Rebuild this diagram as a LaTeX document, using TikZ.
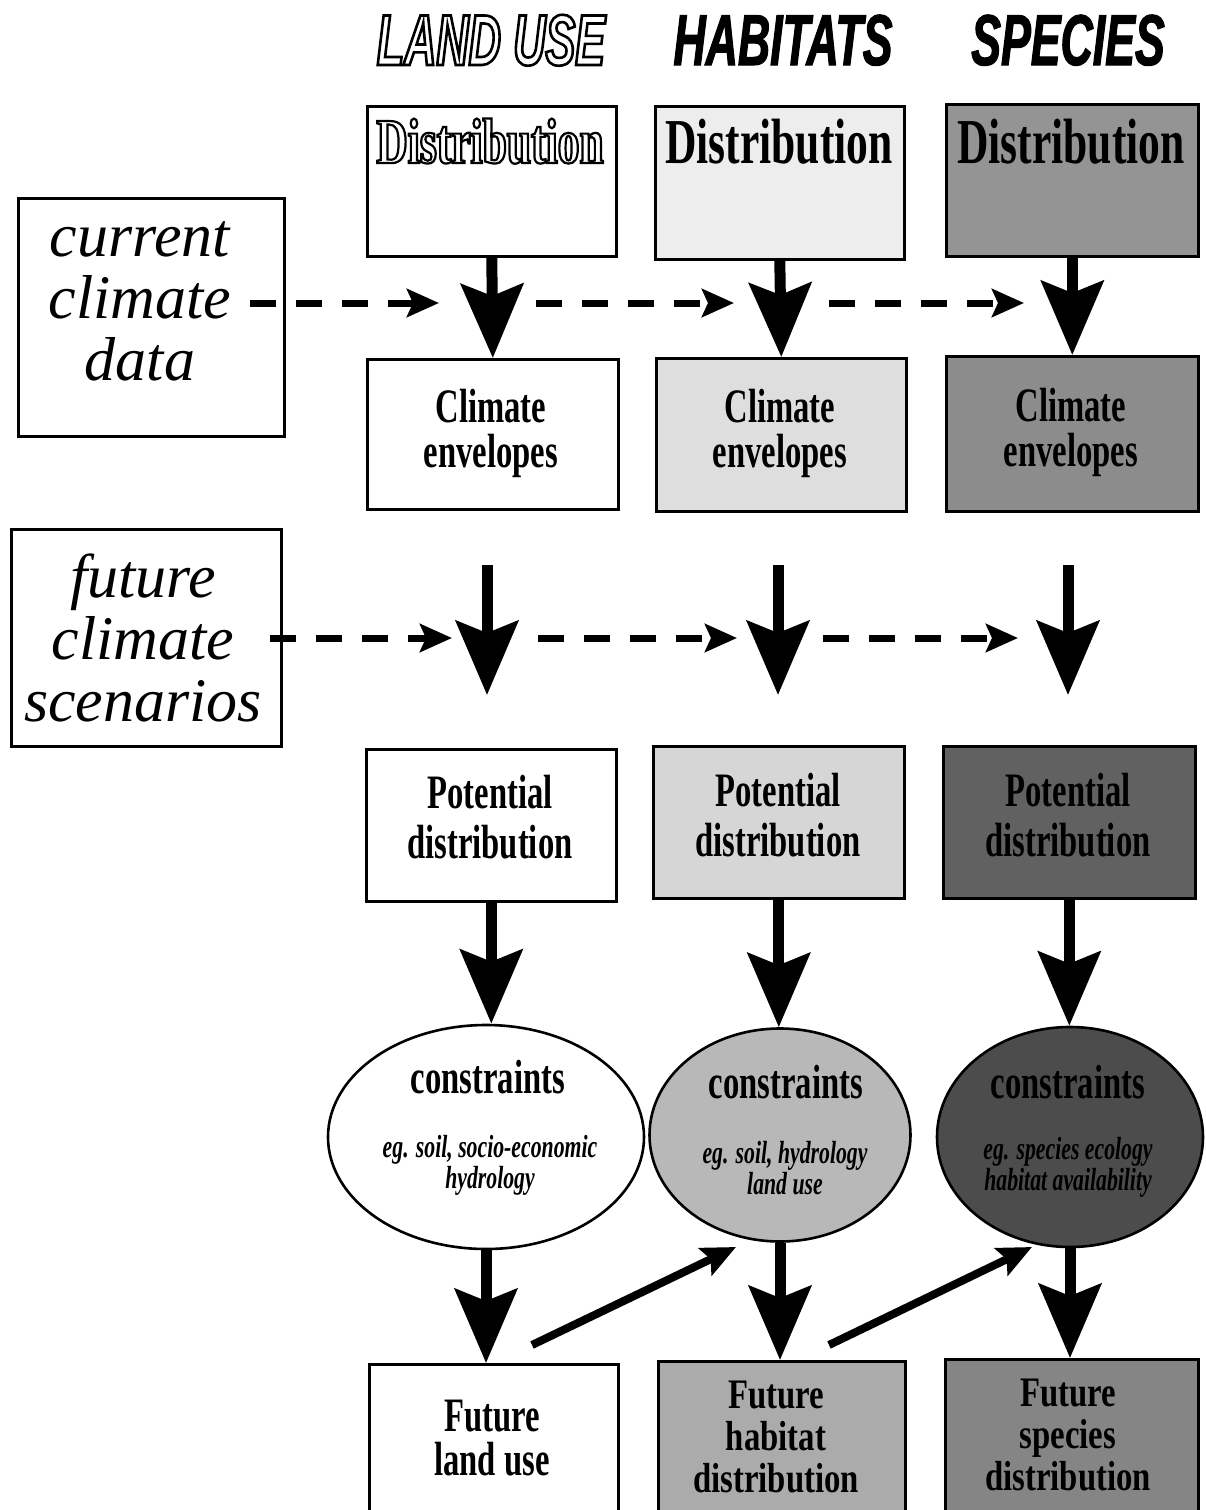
\documentclass[tikz,border=0pt]{standalone}
\usepackage{fontspec}
\usetikzlibrary{arrows.meta,shapes.geometric}
\setmainfont{Liberation Serif}
\newfontfamily\boxfont[FakeStretch=0.68]{Liberation Serif}
\newfontfamily\boxwide[FakeStretch=0.78]{Liberation Serif}
\newfontfamily\headfont[FakeStretch=0.62]{Liberation Sans}
\newfontfamily\heavyhead[FakeStretch=0.62,FakeBold=1.5]{Liberation Sans}
\newcommand{\outltext}[2]{\special{pdf:literal direct #1 w 1 Tr}#2\special{pdf:literal direct 0 Tr 1 w}}
\begin{document}
\begin{tikzpicture}[x=0.5pt,y=-0.5pt,
  boxst/.style={draw,line width=1.3pt,inner sep=0pt,anchor=north west},
  ellst/.style={draw,line width=1.3pt,ellipse,inner sep=0pt},
  headtxt/.style={anchor=base,font=\headfont\bfseries\itshape\fontsize{36}{36}\selectfont},
  heavytxt/.style={anchor=base,font=\heavyhead\bfseries\itshape\fontsize{36}{36}\selectfont},
  disttxt/.style={anchor=base,font=\boxfont\bfseries\fontsize{32}{32}\selectfont},
  midtxt/.style={align=center,font=\boxfont\bfseries\fontsize{24}{22.5}\selectfont},
  threetxt/.style={align=center,font=\boxwide\bfseries\fontsize{21}{21}\selectfont},
  contxt/.style={anchor=base,font=\boxfont\bfseries\fontsize{24}{24}\selectfont},
  subtxt/.style={align=center,font=\boxfont\bfseries\itshape\fontsize{16}{13}\selectfont},
  sidetxt/.style={align=center,font=\itshape\fontsize{31}{31}\selectfont},
  bigarr/.style={line width=5.5pt,-{Stealth[length=37pt,width=31pt,inset=6pt]}},
  dasharr/.style={line width=3.5pt,dash pattern=on 13pt off 10pt,-{Stealth[length=16pt,width=14pt,inset=3pt]}},
  diagarr/.style={line width=4pt,-{Stealth[length=17pt,width=15pt,inset=3pt]}}]
\useasboundingbox (0,0) rectangle (1205,1510);
\fill[white] (0,0) rectangle (1205,1510);

% column headers
\node[headtxt] (hland) at (491,65) {\outltext{1.3}{LAND USE}};
\node[heavytxt] (hhab) at (783,65) {HABITATS};
\node[heavytxt] (hspe) at (1068,65) {SPECIES};

% side boxes
\node[boxst,minimum width=133pt,minimum height=119pt] (cur) at (17,197) {};
\node[sidetxt] (curt) at (140,301) {current\\climate\\data};
\node[boxst,minimum width=135pt,minimum height=108.5pt] (fut) at (10,528) {};
\node[sidetxt] (futt) at (143,638) {future\\climate\\scenarios};

% distribution boxes
\node[boxst,minimum width=124.5pt,minimum height=75pt] (d1) at (366,105) {};
\node[boxst,fill=black!7,minimum width=124.5pt,minimum height=76.5pt] (d2) at (654,105) {};
\node[boxst,fill=black!42,minimum width=126pt,minimum height=76pt] (d3) at (945,103) {};
\node[disttxt] (d1t) at (490,163) {\outltext{1.1}{Distribution}};
\node[disttxt] (d2t) at (779,163) {Distribution};
\node[disttxt] (d3t) at (1071,163) {Distribution};

% climate envelope boxes
\node[boxst,minimum width=125.5pt,minimum height=75pt] (c1) at (366,358) {};
\node[boxst,fill=black!13,minimum width=125pt,minimum height=76.5pt] (c2) at (655,357) {};
\node[boxst,fill=black!45,minimum width=126pt,minimum height=77.5pt] (c3) at (945,355) {};
\node[midtxt] (c1t) at (491,433) {Climate\\envelopes};
\node[midtxt] (c2t) at (780,433) {Climate\\envelopes};
\node[midtxt] (c3t) at (1071,432) {Climate\\envelopes};

% potential distribution boxes
\node[boxst,minimum width=125pt,minimum height=76pt] (p1) at (365,748) {};
\node[boxst,fill=black!16,minimum width=125.5pt,minimum height=76pt] (p2) at (652,745) {};
\node[boxst,fill=black!62,minimum width=126pt,minimum height=76pt] (p3) at (942,745) {};
\node[midtxt,font=\boxfont\bfseries\fontsize{24}{25}\selectfont] (p1t) at (490,817) {Potential\\distribution};
\node[midtxt,font=\boxfont\bfseries\fontsize{24}{25}\selectfont] (p2t) at (778,815) {Potential\\distribution};
\node[midtxt,font=\boxfont\bfseries\fontsize{24}{25}\selectfont] (p3t) at (1068,815) {Potential\\distribution};

% constraint ellipses
\node[ellst,minimum width=158pt,minimum height=112pt] (e1) at (486,1137) {};
\node[ellst,fill=black!28,minimum width=130.5pt,minimum height=106.5pt] (e2) at (780,1135) {};
\node[ellst,fill=black!70,minimum width=133pt,minimum height=110pt] (e3) at (1070,1137) {};
\node[contxt] (e1t) at (488,1093) {constraints};
\node[contxt] (e2t) at (786,1098) {constraints};
\node[contxt] (e3t) at (1068,1098) {constraints};
\node[subtxt] (e1s) at (490,1165) {eg. soil, socio-economic\\hydrology};
\node[subtxt] (e2s) at (785,1168) {eg. soil, hydrology\\land use};
\node[subtxt] (e3s) at (1068,1167) {eg. species ecology\\habitat availability};

% future boxes
\node[boxst,minimum width=124.5pt,minimum height=85pt] (f1) at (368,1363) {};
\node[boxst,fill=black!33,minimum width=123.5pt,minimum height=86pt] (f2) at (657,1360) {};
\node[boxst,fill=black!48,minimum width=126.5pt,minimum height=87pt] (f3) at (944,1358) {};
\node[midtxt,font=\boxfont\bfseries\fontsize{24}{22}\selectfont] (f1t) at (492,1438) {Future\\land use};
\node[threetxt] (f2t) at (776,1437) {Future\\habitat\\distribution};
\node[threetxt] (f3t) at (1068,1435) {Future\\species\\distribution};

% big vertical arrows
\draw[bigarr] (d1.south) -- (c1.north);
\draw[bigarr] (d2.south) -- (c2.north);
\draw[bigarr] (d3.south) -- (c3.north);

\coordinate (a1s) at (487,565); \coordinate (a1e) at (487,695);
\coordinate (a2s) at (778,565); \coordinate (a2e) at (778,695);
\coordinate (a3s) at (1068,565); \coordinate (a3e) at (1068,695);
\draw[bigarr] (a1s) -- (a1e);
\draw[bigarr] (a2s) -- (a2e);
\draw[bigarr] (a3s) -- (a3e);

\draw[bigarr] (p1.south) -- (p1.south |- e1.north);
\draw[bigarr] (p2.south) -- (p2.south |- e2.north);
\draw[bigarr] (p3.south) -- (p3.south |- e3.north);

\draw[bigarr] (e1.south) -- (e1.south |- f1.north);
\draw[bigarr] (e2.south) -- (e2.south |- f2.north);
\draw[bigarr] (e3.south) -- (e3.south |- f3.north);

% dashed climate arrows
\coordinate (r1a) at (250,303); \coordinate (r1b) at (439,303);
\coordinate (r1c) at (536,303); \coordinate (r1d) at (734,303);
\coordinate (r1e) at (829,303); \coordinate (r1f) at (1024,303);
\draw[dasharr] (r1a) -- (r1b);
\draw[dasharr] (r1c) -- (r1d);
\draw[dasharr] (r1e) -- (r1f);

\coordinate (r2a) at (270,638); \coordinate (r2b) at (452,638);
\coordinate (r2c) at (538,638); \coordinate (r2d) at (737,638);
\coordinate (r2e) at (823,638); \coordinate (r2f) at (1018,638);
\draw[dasharr] (r2a) -- (r2b);
\draw[dasharr] (r2c) -- (r2d);
\draw[dasharr] (r2e) -- (r2f);

% diagonal arrows
\coordinate (g1s) at (532,1345); \coordinate (g1e) at (736,1247);
\coordinate (g2s) at (829,1345); \coordinate (g2e) at (1032,1247);
\draw[diagarr] (g1s) -- (g1e);
\draw[diagarr] (g2s) -- (g2e);
\end{tikzpicture}
\end{document}
